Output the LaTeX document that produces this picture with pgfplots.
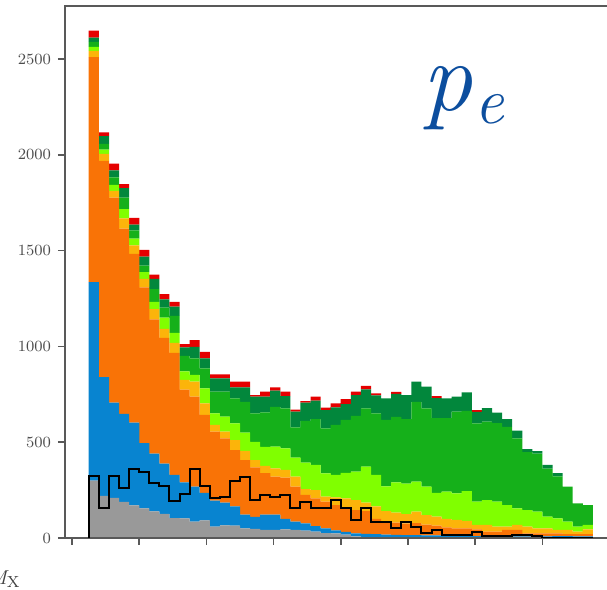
\documentclass[border=0pt]{standalone}
\usepackage{fontspec}
\usepackage{pgfplots}
\usepackage{pgfplotstable}
\pgfplotsset{compat=1.18}
\definecolor{cgray}{RGB}{153,153,153}
\definecolor{cblue}{RGB}{8,132,208}
\definecolor{corange}{RGB}{249,115,6}
\definecolor{camber}{RGB}{252,180,10}
\definecolor{clime}{RGB}{128,255,0}
\definecolor{cgreen}{RGB}{21,176,26}
\definecolor{cdgreen}{RGB}{2,135,60}
\definecolor{cred}{RGB}{229,0,0}
\definecolor{cpe}{RGB}{12,78,158}
% x = left edge of each bin (bin width 0.15); per-component counts
\pgfplotstableread{
x g b o a l gr d r
0.25 300 1035 1175 32 21 26 23 36
0.40 220 620 1128 37 22 30 40 20
0.55 209 497 1071 35 31 39 37 35
0.70 188 460 967 53 49 60 49 21
0.85 170 432 881 44 35 44 30 35
1.00 154 341 813 44 35 35 47 35
1.15 139 301 701 53 38 67 53 23
1.30 126 262 657 47 58 52 44 27
1.45 104 226 636 52 53 88 49 24
1.60 103 187 485 50 44 81 45 17
1.75 85 183 470 78 35 87 60 35
1.90 92 143 407 61 78 104 53 34
2.05 60 135 360 35 61 113 69 21
2.20 66 119 335 35 78 131 69 21
2.35 64 101 294 52 87 131 57 30
2.50 50 72 285 48 95 161 75 30
2.65 48 62 258 39 95 149 87 8
2.80 42 80 216 38 100 179 83 26
2.95 42 80 198 43 114 208 84 17
3.10 45 55 215 40 113 209 64 23
3.25 42 43 183 52 100 157 82 11
3.40 38 38 149 30 139 217 95 9
3.55 33 29 145 43 131 239 97 21
3.70 26 24 140 26 121 235 96 12
3.85 24 16 132 40 118 260 92 20
4.00 18 14 128 47 133 276 83 26
4.15 8 16 122 52 148 292 108 18
4.30 5 17 118 45 187 305 99 18
4.45 3 17 80 65 164 321 95 10
4.60 2 16 67 55 130 346 113 0
4.75 0 16 64 52 158 342 120 10
4.90 0 15 60 50 159 336 126 0
5.05 0 15 63 59 157 417 105 0
5.20 0 14 56 50 148 409 113 0
5.35 0 14 51 46 124 390 105 10
5.50 0 14 41 45 142 383 104 0
5.65 0 12 38 45 138 427 78 0
5.80 0 10 40 40 155 419 96 0
5.95 0 10 35 23 122 408 60 10
6.10 0 12 21 35 130 409 71 0
6.25 0 8 25 26 131 410 54 0
6.40 0 12 30 17 113 408 41 0
6.55 0 8 34 26 87 365 40 0
6.70 0 8 16 35 87 302 16 0
6.85 0 8 16 26 87 303 14 0
7.00 0 8 16 26 61 251 19 0
7.15 0 10 14 18 61 219 16 0
7.30 0 10 10 22 43 183 0 0
7.45 0 8 12 13 26 122 0 0
7.60 0 8 12 25 23 104 0 0
}\hist
\pgfplotstableread{
x k
0.25 0
0.25 323
0.40 158
0.55 323
0.70 263
0.85 358
1.00 346
1.15 285
1.30 271
1.45 193
1.60 228
1.75 358
1.90 271
2.05 207
2.20 216
2.35 300
2.50 320
2.65 199
2.80 225
2.95 216
3.10 225
3.25 155
3.40 190
3.55 155
3.70 155
3.85 199
4.00 155
4.15 94
4.30 155
4.45 85
4.60 85
4.75 50
4.90 85
5.05 59
5.20 24
5.35 40
5.50 15
5.65 15
5.80 15
5.95 30
6.10 12
6.25 12
6.40 12
6.55 15
6.70 15
6.85 8
7.00 0
7.75 0
}\blackline
\begin{document}
\begin{tikzpicture}
\pgfplotsset{common/.style={
  at={(0,0)}, anchor=south west,
  scale only axis, width=287.5pt, height=266pt,
  xmin=-0.1042, xmax=8.4523, ymin=0, ymax=2776.6}}
\begin{axis}[common,
  ybar stacked, bar width=0.1515, bar shift=0pt,
  axis on top,
  xtick={0,1,2,3,4,5,6,7,8}, xticklabels={},
  ytick={0,500,1000,1500,2000,2500},
  /pgf/number format/1000 sep={},
  /pgf/number format/assume math mode=true,
  tick align=outside, xtick pos=bottom, ytick pos=left,
  major tick length=3.5pt,
  axis line style={draw=black!65, line width=0.8pt},
  tick style={draw=black!65, line width=0.8pt},
  yticklabel style={font=\fontsize{7.8}{9}\selectfont, text=black!70}]
\addplot[fill=cgray, draw=none] table[x expr=\thisrow{x}+0.075, y=g]{\hist};
\addplot[fill=cblue, draw=none] table[x expr=\thisrow{x}+0.075, y=b]{\hist};
\addplot[fill=corange, draw=none] table[x expr=\thisrow{x}+0.075, y=o]{\hist};
\addplot[fill=camber, draw=none] table[x expr=\thisrow{x}+0.075, y=a]{\hist};
\addplot[fill=clime, draw=none] table[x expr=\thisrow{x}+0.075, y=l]{\hist};
\addplot[fill=cgreen, draw=none] table[x expr=\thisrow{x}+0.075, y=gr]{\hist};
\addplot[fill=cdgreen, draw=none] table[x expr=\thisrow{x}+0.075, y=d]{\hist};
\addplot[fill=cred, draw=none] table[x expr=\thisrow{x}+0.075, y=r]{\hist};
\end{axis}
\begin{axis}[common, hide axis]
\addplot[const plot mark left, black, line width=1pt] table[x=x,y=k]{\blackline};
\end{axis}
\node[anchor=base west, text=cpe, inner sep=0pt] at (178.5pt,213.5pt)
  {\fontsize{50}{52}\selectfont\itshape p\kern1pt\raisebox{-6.5pt}{\fontsize{33}{35}\selectfont\itshape e}};
\node[anchor=base east, inner sep=0pt, text=black!75] at (-22.5pt,-23.5pt)
  {\fontsize{10}{12}\selectfont\itshape M\upshape\raisebox{-1.5pt}{\fontsize{8}{9}\selectfont X}};
\pgfresetboundingbox
\useasboundingbox (-32.5pt,-26pt) rectangle (271pt,269pt);
\end{tikzpicture}
\end{document}
